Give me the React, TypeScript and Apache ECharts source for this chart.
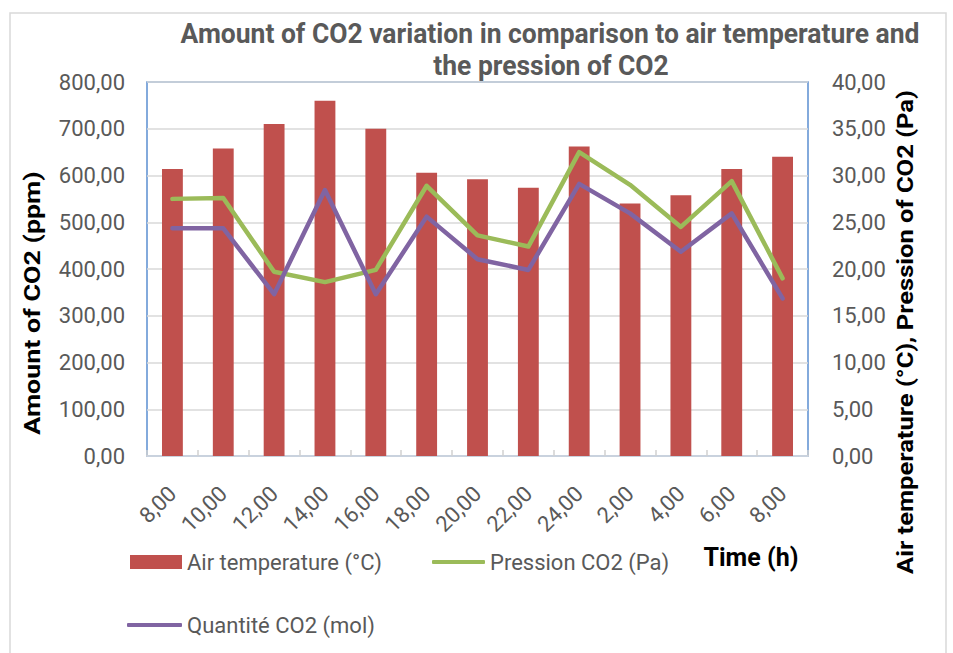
import React, { useEffect, useRef } from "react";
import * as echarts from "echarts";

const categories = ["8,00", "10,00", "12,00", "14,00", "16,00", "18,00", "20,00", "22,00", "24,00", "2,00", "4,00", "6,00", "8,00"];
const airTemperature = [30.7, 32.9, 35.5, 38.0, 35.0, 30.3, 29.6, 28.7, 33.1, 27.0, 27.9, 30.7, 32.0];
const pressionCO2 = [27.5, 27.6, 19.7, 18.6, 19.9, 28.9, 23.6, 22.4, 32.5, 29.0, 24.5, 29.4, 19.0];
const quantiteCO2 = [487, 487, 346, 569, 346, 512, 421, 398, 582, 519, 437, 519, 337];

const titleLine1 = "Amount of CO2 variation in comparison to air temperature and";
const titleLine2 = "the pression of CO2";
const leftAxisTitle = "Amount of CO2 (ppm)";
const rightAxisTitle = "Air temperature (°C), Pression of CO2 (Pa)";
const xAxisTitle = "Time (h)";

const fmt = (v: number) => v.toFixed(2).replace(".", ",");

export default function App() {
  const ref = useRef<HTMLDivElement>(null);
  useEffect(() => {
    if (!ref.current) return;
    const chart = echarts.init(ref.current, null, { renderer: "svg" });
    const labelStyle = { fontFamily: "Roboto", fontSize: 22, color: "#595959" };
    const legendText = { fontFamily: "Roboto", fontSize: 22, color: "#595959" };
    const txt = (text: string, x: number, y: number, font: string, fill: string, rotation = 0, scaleX = 1) => ({
      type: "text",
      x,
      y,
      rotation,
      scaleX,
      style: { text, font, fill, textAlign: "center", textVerticalAlign: "middle", align: "center", verticalAlign: "middle" },
    });
    chart.setOption({
      animation: false,
      backgroundColor: "#ffffff",
      grid: { left: 147, right: 145, top: 82, bottom: 197, show: true, borderColor: "#5b8ed1", borderWidth: 1.5, backgroundColor: "transparent" },
      xAxis: {
        type: "category",
        data: categories,
        boundaryGap: true,
        axisLine: { show: true, lineStyle: { color: "#c9d2de", width: 2 } },
        axisTick: { show: true, inside: true, length: 6, lineStyle: { color: "#d0d0d0", width: 1.5 } },
        axisLabel: { ...labelStyle, rotate: 45, margin: 34, interval: 0 },
        splitLine: { show: false },
      },
      yAxis: [
        {
          type: "value",
          min: 0,
          max: 800,
          interval: 100,
          axisLine: { show: false },
          axisTick: { show: false },
          axisLabel: { ...labelStyle, margin: 22, formatter: fmt },
          splitLine: { show: true, lineStyle: { color: "#d9d9d9", width: 1.5 } },
        },
        {
          type: "value",
          min: 0,
          max: 40,
          interval: 5,
          position: "right",
          axisLine: { show: false },
          axisTick: { show: false },
          axisLabel: { ...labelStyle, margin: 24, formatter: fmt },
          splitLine: { show: false },
        },
      ],
      legend: [
        {
          data: [{ name: "Air temperature (°C)", icon: "rect" }],
          left: 130,
          top: 551,
          padding: 0,
          itemWidth: 52,
          itemHeight: 14,
          textStyle: legendText,
        },
        {
          data: [{ name: "Pression CO2 (Pa)", icon: "roundRect" }],
          left: 432,
          top: 551,
          padding: 0,
          itemWidth: 53,
          itemHeight: 4,
          textStyle: legendText,
        },
        {
          data: [{ name: "Quantité CO2 (mol)", icon: "roundRect" }],
          left: 127,
          top: 614,
          padding: 0,
          itemWidth: 55,
          itemHeight: 4,
          textStyle: legendText,
        },
      ],
      series: [
        {
          name: "Air temperature (°C)",
          type: "bar",
          yAxisIndex: 1,
          data: airTemperature,
          barWidth: "41%",
          itemStyle: { color: "#c0504d" },
        },
        {
          name: "Pression CO2 (Pa)",
          type: "line",
          yAxisIndex: 1,
          data: pressionCO2,
          symbol: "none",
          lineStyle: { color: "#9bbb59", width: 4.5, cap: "round", join: "round" },
          itemStyle: { color: "#9bbb59" },
        },
        {
          name: "Quantité CO2 (mol)",
          type: "line",
          yAxisIndex: 0,
          data: quantiteCO2,
          symbol: "none",
          lineStyle: { color: "#8064a2", width: 4.5, cap: "round", join: "round" },
          itemStyle: { color: "#8064a2" },
        },
      ],
      graphic: [
        { type: "rect", shape: { x: 10, y: 13, width: 936, height: 660 }, style: { fill: "none", stroke: "#d9d9d9", lineWidth: 1.5 }, z: -1 },
        txt(titleLine1, 550, 34, "bold 27px Roboto", "#595959", 0, 0.98),
        txt(titleLine2, 551, 66, "bold 27px Roboto", "#595959", 0, 0.98),
        txt(leftAxisTitle, 32, 303, "bold 22px Roboto", "#000000", Math.PI / 2, 1.22),
        txt(rightAxisTitle, 906, 332, "bold 22px Roboto", "#000000", Math.PI / 2, 1.16),
        txt(xAxisTitle, 751, 557, "bold 25px Roboto", "#000000"),
      ],
    });
    return () => chart.dispose();
  }, []);
  return <div ref={ref} style={{ position: "fixed", left: 0, top: 0, width: 953, height: 653 }} />;
}
